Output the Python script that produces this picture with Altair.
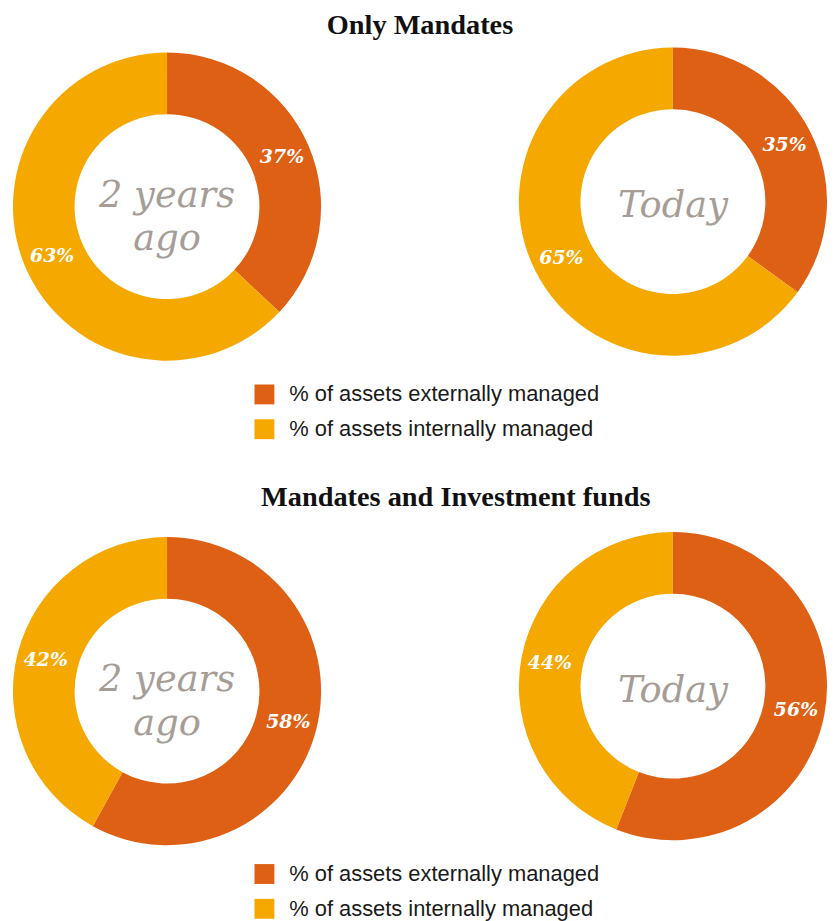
import altair as alt
import pandas as pd

# ---- data ----
sections = ["Only Mandates", "Mandates and Investment funds"]
periods = ["2 years ago", "Today"]
center_labels = ["2 years\nago", "Today"]
shares = ["% of assets externally managed", "% of assets internally managed"]
external = [37, 35, 58, 56]   # per (section, period)
internal = [63, 65, 42, 44]

colors = ["#de6015", "#f5a800"]
grey = "#a69d97"
SERIF = "DejaVu Serif"
TITLE_SERIF = "Liberation Serif"
SANS = "Liberation Sans"

rows = []
k = 0
for s in sections:
    for p in periods:
        for rank, (share, val) in enumerate(zip(shares, [external[k], internal[k]])):
            rows.append({"section": s, "period": p, "share": share,
                         "value": val, "rank": rank, "pct": f"{val}%"})
        k += 1
df = pd.DataFrame(rows)

color_scale = alt.Scale(domain=shares, range=colors)


def donut(section, pi, height, legend):
    d = df[(df.section == section) & (df.period == periods[pi])]
    base = alt.Chart(d)
    theta = alt.Theta("value:Q", stack=True)
    arcs = base.mark_arc(outerRadius=155, innerRadius=93).encode(
        theta=theta,
        color=alt.Color("share:N", scale=color_scale, legend=legend),
        order=alt.Order("rank:Q"),
    )
    pct = base.mark_text(radius=126, font=SERIF, fontStyle="italic",
                         fontWeight="bold", fontSize=19, color="white").encode(
        theta=theta,
        detail="share:N",
        order=alt.Order("rank:Q"),
        text="pct:N",
    )
    label = center_labels[pi]
    two_lines = "\n" in label
    ctr = alt.Chart(pd.DataFrame({"t": [label]})).mark_text(
        font=SERIF, fontStyle="italic", fontSize=37, color=grey,
        lineBreak="\n", lineHeight=44, baseline="alphabetic",
        dy=0 if two_lines else 15.5,
    ).encode(text="t:N")
    return alt.layer(arcs, pct, ctr).properties(width=310, height=height)


def section(si, legend_y, title_dx, title_offset):
    s = sections[si]
    legend = alt.Legend(
        title=None, orient="none", legendX=242, legendY=legend_y,
        direction="vertical", symbolType="square", symbolSize=400,
        symbolStrokeWidth=0, labelFont=SANS, labelFontSize=22,
        labelColor="#1a1a1a", labelLimit=500, labelOffset=14,
        rowPadding=13, padding=0,
    )
    return alt.hconcat(
        donut(s, 0, 320, legend), donut(s, 1, 310, legend), spacing=199
    ).properties(
        title=alt.TitleParams(
            s, font=TITLE_SERIF, fontSize=28.5, fontWeight="bold",
            color="#111111", anchor="middle", offset=title_offset, dx=title_dx,
        )
    )


chart = alt.vconcat(
    section(0, 338, 0, 8), section(1, 333, 36, 20.5), spacing=43.5
).resolve_scale(color="independent").properties(
    padding={"left": 5, "top": 0, "right": 0, "bottom": 0}
).configure_view(stroke=None)

chart.save("out.html", embed_options={"renderer": "svg", "actions": False})
